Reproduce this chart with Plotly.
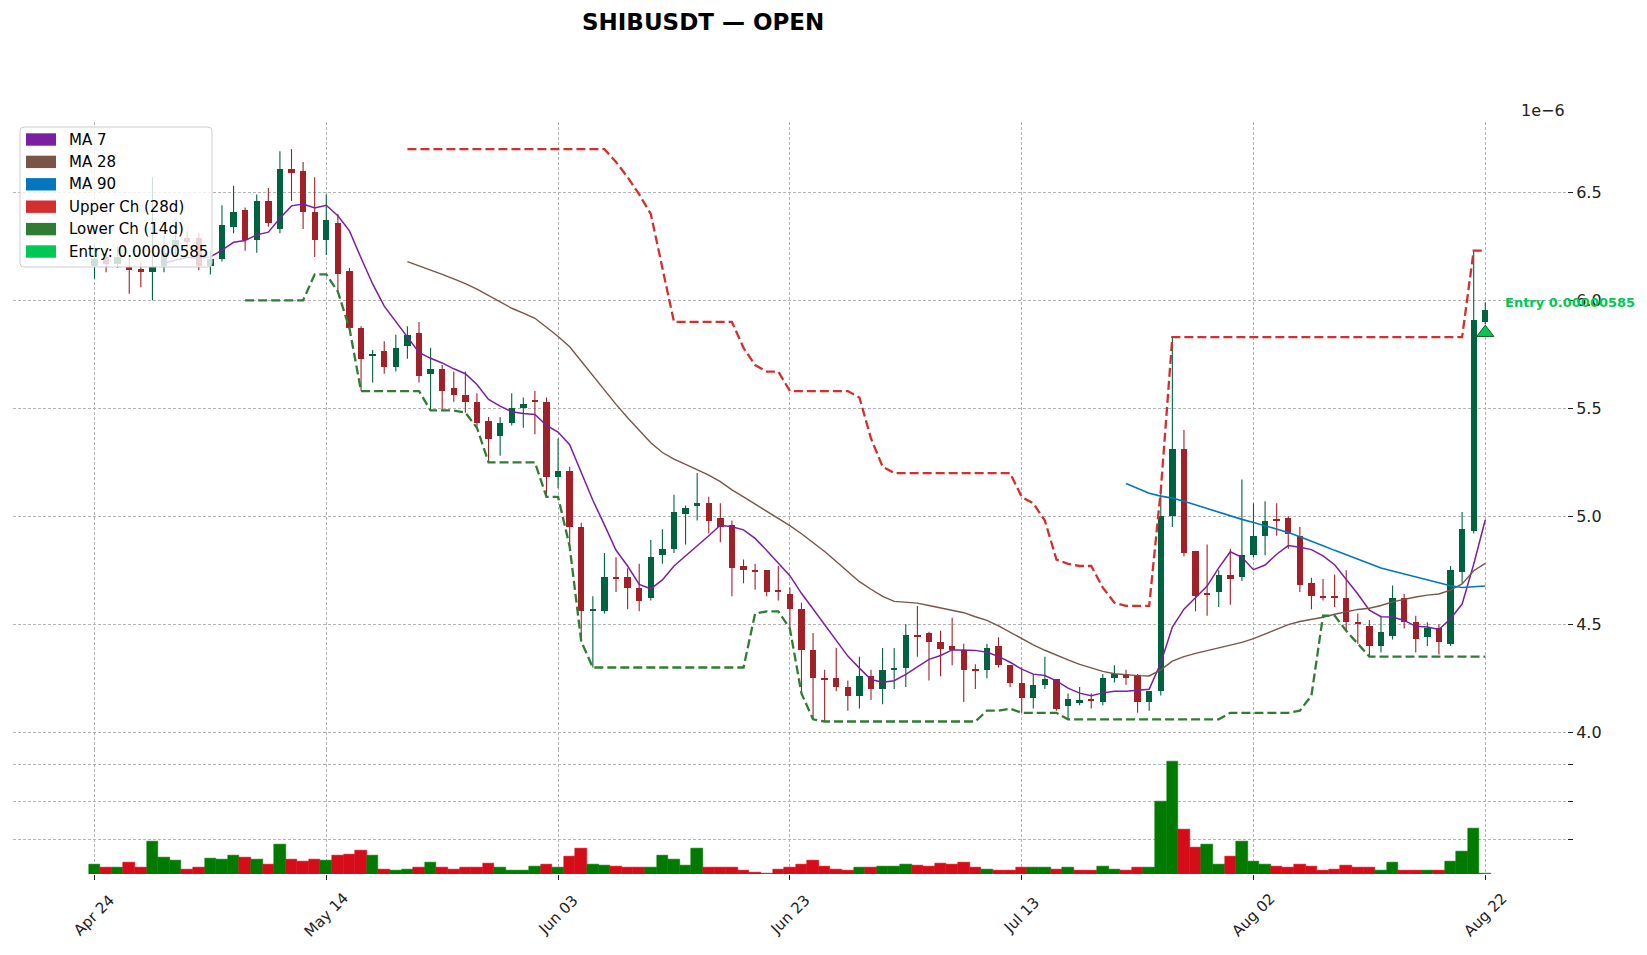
import plotly.graph_objects as go
import pandas as pd

# ---------------- data (prices in units of 1e-6 USDT) ----------------
tick_index = [0, 20, 40, 60, 80, 100, 120]
tick_labels = ["Apr 24", "May 14", "Jun 03", "Jun 23", "Jul 13", "Aug 02", "Aug 22"]

open_ = [6.16, 6.20, 6.17, 6.155, 6.145, 6.13, 6.16, 6.25, 6.29, 6.29,
         6.16, 6.19, 6.34, 6.42, 6.28, 6.46, 6.33, 6.61, 6.60, 6.41,
         6.28, 6.36, 6.135, 5.87, 5.74, 5.765, 5.69, 5.79, 5.85, 5.66,
         5.68, 5.595, 5.56, 5.53, 5.44, 5.37, 5.43, 5.50, 5.535, 5.53,
         5.18, 5.21, 4.95, 4.56, 4.56, 4.72, 4.72, 4.67, 4.62, 4.82,
         4.85, 5.01, 5.05, 5.06, 4.99, 4.96, 4.77, 4.75, 4.75, 4.655,
         4.64, 4.57, 4.38, 4.25, 4.25, 4.21, 4.17, 4.26, 4.20, 4.29,
         4.30, 4.45, 4.46, 4.42, 4.40, 4.38, 4.29, 4.29, 4.40, 4.31,
         4.23, 4.16, 4.22, 4.245, 4.12, 4.136, 4.153, 4.14, 4.25, 4.27,
         4.265, 4.14, 4.19, 5.00, 5.31, 4.84, 4.645, 4.65, 4.73, 4.72,
         4.82, 4.91, 4.985, 4.99, 4.91, 4.69, 4.63, 4.63, 4.62, 4.51,
         4.49, 4.40, 4.445, 4.62, 4.51, 4.44, 4.485, 4.41, 4.74, 4.93,
         5.90]
high = [6.26, 6.24, 6.25, 6.20, 6.18, 6.57, 6.30, 6.33, 6.32, 6.31,
        6.23, 6.44, 6.53, 6.43, 6.49, 6.52, 6.69, 6.70, 6.64, 6.57,
        6.49, 6.40, 6.15, 5.88, 5.77, 5.81, 5.84, 5.88, 5.90, 5.78,
        5.70, 5.67, 5.67, 5.57, 5.46, 5.46, 5.57, 5.55, 5.58, 5.55,
        5.36, 5.23, 4.97, 4.63, 4.83, 4.81, 4.76, 4.78, 4.89, 4.94,
        5.10, 5.05, 5.20, 5.09, 5.06, 4.98, 4.80, 4.78, 4.75, 4.77,
        4.67, 4.60, 4.46, 4.29, 4.39, 4.24, 4.35, 4.29, 4.39, 4.39,
        4.50, 4.585, 4.465, 4.47, 4.53, 4.41, 4.315, 4.41, 4.44, 4.31,
        4.30, 4.27, 4.35, 4.245, 4.18, 4.21, 4.18, 4.27, 4.31, 4.29,
        4.27, 4.19, 5.12, 5.83, 5.40, 4.84, 4.87, 4.75, 4.85, 5.17,
        5.06, 5.07, 5.06, 5.00, 4.95, 4.715, 4.71, 4.73, 4.75, 4.55,
        4.52, 4.54, 4.68, 4.64, 4.54, 4.51, 4.50, 4.77, 5.02, 6.23,
        5.99]
low = [6.10, 6.13, 6.15, 6.03, 6.06, 6.00, 6.13, 6.20, 6.24, 6.14,
       6.12, 6.18, 6.31, 6.23, 6.22, 6.34, 6.31, 6.46, 6.33, 6.20,
       6.21, 6.04, 5.87, 5.58, 5.62, 5.66, 5.67, 5.73, 5.62, 5.49,
       5.49, 5.53, 5.48, 5.41, 5.25, 5.28, 5.42, 5.41, 5.38, 5.09,
       5.13, 4.86, 4.42, 4.30, 4.55, 4.65, 4.57, 4.56, 4.61, 4.78,
       4.83, 4.87, 4.98, 4.92, 4.88, 4.63, 4.69, 4.66, 4.63, 4.61,
       4.48, 4.18, 4.06, 4.05, 4.19, 4.10, 4.11, 4.15, 4.13, 4.20,
       4.21, 4.35, 4.24, 4.26, 4.31, 4.14, 4.20, 4.25, 4.30, 4.21,
       4.09, 4.11, 4.20, 4.10, 4.06, 4.125, 4.11, 4.125, 4.23, 4.22,
       4.09, 4.10, 4.17, 4.95, 4.815, 4.56, 4.54, 4.58, 4.59, 4.70,
       4.81, 4.82, 4.91, 4.85, 4.65, 4.57, 4.61, 4.58, 4.47, 4.41,
       4.35, 4.37, 4.43, 4.48, 4.37, 4.40, 4.36, 4.40, 4.69, 4.92,
       5.89]
close = [6.19, 6.17, 6.20, 6.14, 6.132, 6.155, 6.22, 6.28, 6.27, 6.16,
         6.19, 6.35, 6.41, 6.28, 6.46, 6.36, 6.61, 6.59, 6.41, 6.28,
         6.37, 6.12, 5.87, 5.73, 5.75, 5.69, 5.78, 5.84, 5.65, 5.68,
         5.58, 5.56, 5.53, 5.43, 5.36, 5.43, 5.50, 5.52, 5.53, 5.18,
         5.21, 4.95, 4.56, 4.57, 4.72, 4.71, 4.67, 4.61, 4.81, 4.85,
         5.02, 5.04, 5.06, 4.98, 4.95, 4.76, 4.75, 4.745, 4.65, 4.65,
         4.57, 4.38, 4.25, 4.24, 4.21, 4.17, 4.26, 4.20, 4.29, 4.30,
         4.45, 4.445, 4.42, 4.385, 4.38, 4.29, 4.285, 4.39, 4.31, 4.23,
         4.16, 4.22, 4.245, 4.11, 4.155, 4.150, 4.148, 4.25, 4.27, 4.25,
         4.14, 4.19, 5.00, 5.31, 4.83, 4.63, 4.64, 4.73, 4.71, 4.82,
         4.91, 4.98, 4.98, 4.92, 4.68, 4.63, 4.62, 4.62, 4.51, 4.50,
         4.40, 4.465, 4.62, 4.51, 4.43, 4.485, 4.42, 4.75, 4.94, 5.91,
         5.955]
volume = [0.34, 0.24, 0.24, 0.39, 0.24, 0.95, 0.52, 0.45, 0.21, 0.26,
          0.50, 0.47, 0.58, 0.52, 0.47, 0.34, 0.87, 0.47, 0.42, 0.47,
          0.45, 0.58, 0.61, 0.71, 0.58, 0.21, 0.18, 0.21, 0.26, 0.39,
          0.26, 0.21, 0.26, 0.26, 0.37, 0.24, 0.16, 0.16, 0.29, 0.34,
          0.26, 0.55, 0.76, 0.34, 0.31, 0.29, 0.26, 0.26, 0.24, 0.58,
          0.47, 0.31, 0.76, 0.24, 0.26, 0.26, 0.16, 0.13, 0.10, 0.21,
          0.26, 0.34, 0.45, 0.29, 0.21, 0.16, 0.26, 0.26, 0.29, 0.29,
          0.34, 0.31, 0.29, 0.37, 0.34, 0.39, 0.24, 0.21, 0.18, 0.16,
          0.24, 0.26, 0.26, 0.21, 0.26, 0.16, 0.16, 0.29, 0.21, 0.18,
          0.24, 0.26, 2.00, 3.09, 1.27, 0.79, 0.87, 0.34, 0.55, 0.95,
          0.42, 0.34, 0.29, 0.24, 0.34, 0.29, 0.16, 0.21, 0.31, 0.24,
          0.26, 0.18, 0.39, 0.16, 0.16, 0.18, 0.18, 0.42, 0.69, 1.30,
          0.10]
entry_price = 5.85
legend_labels = ["MA 7", "MA 28", "MA 90", "Upper Ch (28d)", "Lower Ch (14d)",
                 "Entry: 0.00000585"]

# ---------------- styling ----------------
UP, DOWN = "#006340", "#a02128"
VUP, VDOWN = "#007a00", "#d50d18"
C_MA7, C_MA28, C_MA90 = "#7b1fa2", "#795548", "#0277bd"
C_UPPER, C_LOWER, C_ENTRY = "#d32f2f", "#2e7d32", "#00c853"
legend_colors = [C_MA7, C_MA28, C_MA90, C_UPPER, C_LOWER, C_ENTRY]
FONT = "DejaVu Sans"
GRID = "#b4b4b4"

# page geometry (the html body adds an 8px margin around the figure div)
W, H = 1647, 955
BODY = 8
ML, MR, MT, MB = 13, 80, 122, 81        # plot area edges in page pixels
PW, PH = W - ML - MR, H - MT - MB


def px_x(X):
    return (X - ML) / PW


def px_y(Y):
    return (H - MB - Y) / PH


n = len(close)
idx = list(range(n))
s_close = pd.Series(close)
ma7 = s_close.rolling(7).mean()
ma28 = s_close.rolling(28).mean()
ma90 = s_close.rolling(90).mean()
upper = pd.Series(high).rolling(28).max()
lower = pd.Series(low).rolling(14).min()

up_flags = [c >= o for o, c in zip(open_, close)]
body_base = [min(o, c) for o, c in zip(open_, close)]
body_h = [max(abs(c - o), 0.006) for o, c in zip(open_, close)]
body_col = [UP if u else DOWN for u in up_flags]
vol_col = [VUP if (close[i] > (close[i - 1] if i > 0 else open_[0])) else VDOWN
           for i in range(n)]

fig = go.Figure()

# wicks
for flag, col in ((True, UP), (False, DOWN)):
    wx, wy = [], []
    for i in range(n):
        if up_flags[i] == flag:
            wx += [i, i, None]
            wy += [low[i], high[i], None]
    fig.add_trace(go.Scatter(x=wx, y=wy, mode="lines",
                             line=dict(color=col, width=1.1),
                             xaxis="x", yaxis="y", hoverinfo="skip"))

# bodies
fig.add_trace(go.Bar(x=idx, y=body_h, base=body_base, width=0.55,
                     marker=dict(color=body_col, line=dict(width=0)),
                     xaxis="x", yaxis="y"))

# volume
fig.add_trace(go.Bar(x=idx, y=volume, width=1.0,
                     marker=dict(color=vol_col, line=dict(width=0.5, color=vol_col)),
                     xaxis="x", yaxis="y2"))

# moving averages & channels
fig.add_trace(go.Scatter(x=idx, y=ma7, mode="lines", line=dict(color=C_MA7, width=1.5)))
fig.add_trace(go.Scatter(x=idx, y=ma28, mode="lines", line=dict(color=C_MA28, width=1.4)))
fig.add_trace(go.Scatter(x=idx, y=ma90, mode="lines", line=dict(color=C_MA90, width=1.6)))
fig.add_trace(go.Scatter(x=idx, y=upper, mode="lines",
                         line=dict(color=C_UPPER, width=2.3, dash="9px,4px")))
fig.add_trace(go.Scatter(x=idx, y=lower, mode="lines",
                         line=dict(color=C_LOWER, width=2.3, dash="9px,4px")))

# entry marker
fig.add_trace(go.Scatter(x=[n - 1], y=[entry_price], mode="markers",
                         marker=dict(symbol="triangle-up", size=15, color=C_ENTRY,
                                     line=dict(color="#1b5e20", width=1)),
                         cliponaxis=False))

axis_common = dict(showgrid=True, gridcolor=GRID, gridwidth=0.8, griddash="3px,2px",
                   zeroline=False, showline=False)

fig.update_layout(
    width=W - BODY, height=H - BODY,
    margin=dict(l=ML - BODY, r=MR, t=MT - BODY, b=MB, pad=0),
    paper_bgcolor="white", plot_bgcolor="white",
    showlegend=False, barmode="overlay", bargap=0,
    font=dict(family=FONT, size=16, color="#222222"),
    xaxis=dict(range=[-7.03, 127.05], anchor="y2", tickvals=tick_index,
               showticklabels=False, ticks="outside", ticklen=5, tickwidth=1,
               tickcolor="#222222", **axis_common),
    yaxis=dict(domain=[px_y(749.0), 1.0], range=[3.9227, 6.8255], side="right",
               anchor="x", tickvals=[4.0, 4.5, 5.0, 5.5, 6.0, 6.5], tickformat=".1f",
               ticks="outside", ticklen=5, tickwidth=1, tickcolor="#222222",
               tickfont=dict(family=FONT, size=16, color="#222222"), **axis_common),
    yaxis2=dict(domain=[0.0, px_y(749.4)], range=[0.0747, 3.397], side="right",
                anchor="x", tickvals=[1, 2, 3], showticklabels=False,
                ticks="outside", ticklen=5, tickwidth=1, tickcolor="#222222",
                **axis_common),
)

annotations = []
# x tick labels (rotated, centred on the tick as in the original)
for t, lab in zip(tick_index, tick_labels):
    annotations.append(dict(x=t, xref="x", y=px_y(915), yref="paper", text=lab,
                            textangle=-45, showarrow=False, xanchor="center",
                            yanchor="middle",
                            font=dict(family=FONT, size=15, color="#222222")))
# title
annotations.append(dict(x=px_x(703), y=px_y(22), xref="paper", yref="paper",
                        text="<b>SHIBUSDT — OPEN</b>", showarrow=False,
                        xanchor="center", yanchor="middle",
                        font=dict(family=FONT, size=23, color="black")))
# offset label
annotations.append(dict(x=px_x(1567), y=px_y(110), xref="paper", yref="paper",
                        text="1e−6", showarrow=False, xanchor="right", yanchor="middle",
                        font=dict(family=FONT, size=16, color="#222222")))
# entry label
annotations.append(dict(x=121.5, y=5.99, xref="x", yref="y",
                        text="<b>Entry 0.00000585</b>", showarrow=False,
                        xanchor="left", yanchor="middle",
                        font=dict(family=FONT, size=13, color=C_ENTRY)))

# legend (drawn manually to mirror the matplotlib legend box)
shapes = []
x0, x1, y0, y1 = px_x(20), px_x(212), px_y(267), px_y(127)
rx, ry = 4 / PW, 4 / PH
path = (f"M {x0+rx},{y0} L {x1-rx},{y0} Q {x1},{y0} {x1},{y0+ry} "
        f"L {x1},{y1-ry} Q {x1},{y1} {x1-rx},{y1} L {x0+rx},{y1} "
        f"Q {x0},{y1} {x0},{y1-ry} L {x0},{y0+ry} Q {x0},{y0} {x0+rx},{y0} Z")
shapes.append(dict(type="path", path=path, xref="paper", yref="paper",
                   fillcolor="rgba(255,255,255,0.8)", line=dict(color="#cccccc", width=1),
                   layer="above"))
for k, (lab, col) in enumerate(zip(legend_labels, legend_colors)):
    yc = 139.5 + 22.4 * k
    shapes.append(dict(type="rect", xref="paper", yref="paper",
                       x0=px_x(26), x1=px_x(56), y0=px_y(yc + 6.2), y1=px_y(yc - 6.2),
                       fillcolor=col, line=dict(width=0), layer="above"))
    annotations.append(dict(x=px_x(67), y=px_y(yc), xref="paper", yref="paper",
                            text=lab, showarrow=False, xanchor="left", yanchor="middle",
                            font=dict(family=FONT, size=15, color="black")))

fig.update_layout(annotations=annotations, shapes=shapes)

fig.write_html("out.html")
